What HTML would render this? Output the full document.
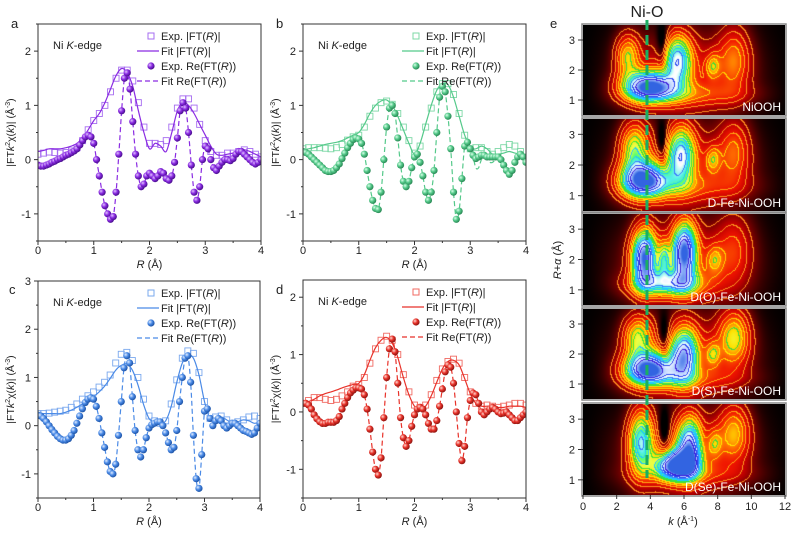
<!DOCTYPE html>
<html><head><meta charset="utf-8">
<style>
body{margin:0;background:#fff;}
#wrap{position:relative;width:800px;height:538px;overflow:hidden;font-family:"Liberation Sans",sans-serif;}
canvas{position:absolute;}
svg{position:absolute;left:0;top:0;}
text{font-family:"Liberation Sans",sans-serif;}
</style></head>
<body>
<div id="wrap">
<canvas id="h0"></canvas>
<canvas id="h1"></canvas>
<canvas id="h2"></canvas>
<canvas id="h3"></canvas>
<canvas id="h4"></canvas>
<svg id="svg" width="800" height="538">
<defs>
<radialGradient id="gA" cx="35%" cy="35%" r="65%"><stop offset="0" stop-color="#e0c0ff"/><stop offset="0.5" stop-color="#8a2be2"/><stop offset="1" stop-color="#4b0f90"/></radialGradient>
<radialGradient id="gB" cx="35%" cy="35%" r="65%"><stop offset="0" stop-color="#d8ffe8"/><stop offset="0.5" stop-color="#55c98a"/><stop offset="1" stop-color="#2a8a56"/></radialGradient>
<radialGradient id="gC" cx="35%" cy="35%" r="65%"><stop offset="0" stop-color="#e0ecff"/><stop offset="0.5" stop-color="#4a8ae6"/><stop offset="1" stop-color="#1f55a8"/></radialGradient>
<radialGradient id="gD" cx="35%" cy="35%" r="65%"><stop offset="0" stop-color="#ffd8d0"/><stop offset="0.5" stop-color="#e8322a"/><stop offset="1" stop-color="#901510"/></radialGradient>
</defs>
</svg>
</div>
<script>
// ---- panel a ----
const absA=[0.1,0.12,0.14,0.13,0.12,0.13,0.16,0.22,0.35,0.55,0.72,0.85,1.0,1.25,1.5,1.65,1.65,1.45,1.05,0.6,0.3,0.3,0.28,0.35,0.6,0.95,1.12,1.12,0.95,0.65,0.35,0.15,0.08,0.08,0.12,0.12,0.15,0.18,0.15,0.1,0.05];
const fitAbsA=[0.15,0.17,0.2,0.2,0.2,0.22,0.25,0.3,0.4,0.55,0.72,0.85,1.05,1.3,1.55,1.68,1.6,1.35,0.9,0.5,0.2,0.3,0.25,0.15,0.5,0.9,1.05,1.0,0.85,0.65,0.45,0.25,0.1,0.08,0.1,0.12,0.15,0.18,0.15,0.1,0.05];
const reA=[-0.1,-0.12,-0.12,-0.1,-0.08,-0.05,-0.03,0,0.02,0.05,0.08,0.1,0.13,0.16,0.2,0.27,0.35,0.42,0.45,0.42,0.3,0.0,-0.3,-0.6,-0.85,-1.0,-1.1,-1.05,-0.6,0.1,0.9,1.5,1.6,1.3,0.7,0.1,-0.3,-0.5,-0.45,-0.3,-0.25,-0.3,-0.35,-0.3,-0.22,-0.25,-0.35,-0.38,-0.3,-0.05,0.4,0.9,1.05,0.95,0.5,-0.1,-0.6,-0.75,-0.5,0.0,0.25,0.2,0.0,-0.15,-0.2,-0.12,-0.05,0.0,0.0,-0.02,0.02,0.1,0.15,0.15,0.1,0.05,0.0,-0.05,-0.08,-0.05,0.0];
const fitReA=[-0.1,-0.12,-0.12,-0.1,-0.08,-0.05,-0.03,0,0.02,0.05,0.08,0.1,0.13,0.16,0.2,0.27,0.35,0.42,0.45,0.42,0.3,0.0,-0.3,-0.6,-0.85,-1.0,-1.1,-1.05,-0.6,0.1,0.9,1.5,1.6,1.3,0.7,0.1,-0.3,-0.5,-0.45,-0.3,-0.25,-0.3,-0.35,-0.3,-0.22,-0.25,-0.35,-0.38,-0.3,-0.05,0.4,0.9,1.05,0.95,0.5,-0.1,-0.6,-0.75,-0.5,0.0,0.25,0.2,0.0,-0.15,-0.2,-0.12,-0.05,0.0,0.0,-0.02,0.02,0.1,0.15,0.15,0.1,0.05,0.0,-0.05,-0.08,-0.05,0.0];
// ---- panel b ----
const absB=[0.2,0.22,0.22,0.22,0.21,0.2,0.22,0.28,0.36,0.42,0.45,0.6,0.8,0.95,1.05,1.08,1.02,0.85,0.6,0.35,0.12,0.25,0.6,0.95,1.25,1.4,1.4,1.2,0.85,0.45,0.2,0.22,0.22,0.15,0.1,0.15,0.22,0.28,0.25,0.15,0.05];
const fitAbsB=[0.18,0.2,0.22,0.25,0.28,0.3,0.32,0.35,0.4,0.45,0.5,0.65,0.85,1.0,1.08,1.1,1.0,0.8,0.55,0.3,0.1,0.3,0.65,1.0,1.28,1.4,1.38,1.15,0.8,0.45,0.22,0.2,0.25,0.2,0.1,0.1,0.12,0.15,0.12,0.1,0.05];
const reB=[0.15,0.13,0.1,0.05,0,-0.05,-0.1,-0.15,-0.2,-0.22,-0.22,-0.2,-0.15,-0.08,0.02,0.12,0.22,0.3,0.37,0.4,0.38,0.3,0.1,-0.2,-0.5,-0.75,-0.9,-0.92,-0.6,0.0,0.6,0.95,1.0,0.85,0.4,-0.1,-0.4,-0.5,-0.4,-0.15,0.05,0.1,-0.05,-0.3,-0.6,-0.75,-0.6,-0.2,0.5,1.15,1.35,1.25,0.8,0.2,-0.6,-1.1,-0.95,-0.35,0.25,0.32,0.2,0.08,0.02,0.05,0.08,0.08,0.05,0.05,0.05,0.05,0.05,0.0,-0.1,-0.2,-0.27,-0.2,-0.05,0.05,0.1,0.05,-0.05];
const fitReB=[0.15,0.13,0.1,0.05,0,-0.05,-0.1,-0.15,-0.2,-0.22,-0.22,-0.2,-0.15,-0.08,0.02,0.12,0.22,0.3,0.37,0.4,0.38,0.3,0.1,-0.2,-0.5,-0.75,-0.9,-0.92,-0.6,0.0,0.6,0.95,1.0,0.85,0.4,-0.1,-0.4,-0.5,-0.4,-0.15,0.05,0.1,-0.05,-0.3,-0.6,-0.75,-0.6,-0.2,0.5,1.15,1.35,1.25,0.8,0.2,-0.6,-1.1,-0.95,-0.35,0.25,0.32,0.2,0.05,-0.15,-0.15,0.0,0.05,0.0,-0.05,-0.05,0.0,0.02,0.0,-0.1,-0.2,-0.27,-0.2,-0.05,0.05,0.1,0.05,-0.05];
// ---- panel c ----
const absC=[0.25,0.25,0.26,0.28,0.3,0.32,0.38,0.45,0.55,0.62,0.7,0.8,0.9,1.05,1.3,1.48,1.52,1.35,1.0,0.55,0.2,0.1,0.05,0.1,0.45,0.95,1.4,1.55,1.5,1.1,0.5,0.15,0.18,0.2,0.12,0.05,0.08,0.12,0.18,0.2,0.15];
const fitAbsC=[0.25,0.25,0.25,0.25,0.25,0.28,0.32,0.38,0.45,0.52,0.6,0.7,0.82,0.98,1.15,1.25,1.28,1.15,0.85,0.45,0.15,0.08,0.05,0.1,0.4,0.9,1.3,1.45,1.4,1.05,0.5,0.15,0.15,0.18,0.12,0.05,0.08,0.12,0.1,0.05,0.08];
const reC=[0.22,0.2,0.15,0.08,0,-0.08,-0.15,-0.22,-0.27,-0.3,-0.3,-0.27,-0.2,-0.1,0.05,0.2,0.35,0.48,0.55,0.58,0.55,0.4,0.15,-0.15,-0.45,-0.75,-0.95,-1.0,-0.8,-0.2,0.5,1.2,1.45,1.3,0.6,-0.1,-0.5,-0.65,-0.5,-0.25,-0.05,0.02,0.05,0.08,0.08,0.0,-0.15,-0.35,-0.5,-0.45,-0.1,0.5,1.0,1.4,1.45,0.9,-0.2,-1.1,-1.3,-0.6,0.3,0.35,0.15,0.0,0.1,0.15,0.1,0.0,-0.05,0.0,0.05,0.05,0.0,-0.05,-0.1,-0.12,-0.15,-0.18,-0.15,-0.05,0.05];
const fitReC=[0.22,0.2,0.15,0.08,0,-0.08,-0.15,-0.22,-0.27,-0.3,-0.3,-0.27,-0.2,-0.1,0.05,0.2,0.35,0.48,0.55,0.58,0.55,0.4,0.15,-0.15,-0.45,-0.75,-0.95,-1.0,-0.8,-0.2,0.5,1.2,1.45,1.3,0.6,-0.1,-0.5,-0.65,-0.5,-0.25,-0.05,0.02,0.05,0.08,0.08,0.0,-0.15,-0.35,-0.5,-0.45,-0.1,0.5,1.0,1.4,1.45,0.9,-0.2,-1.1,-1.3,-0.6,0.3,0.35,0.15,0.0,0.1,0.15,0.1,0.0,-0.05,0.0,0.05,0.05,0.0,-0.05,-0.1,-0.12,-0.15,-0.18,-0.15,-0.05,0.05];
// ---- panel d ----
const absD=[0.15,0.2,0.25,0.25,0.22,0.2,0.22,0.28,0.35,0.45,0.48,0.6,0.85,1.1,1.25,1.32,1.25,1.0,0.65,0.35,0.12,0.08,0.12,0.3,0.55,0.75,0.88,0.92,0.85,0.6,0.35,0.15,0.1,0.12,0.1,0.08,0.1,0.12,0.15,0.15,0.12];
const fitAbsD=[0.15,0.18,0.22,0.28,0.32,0.35,0.38,0.42,0.45,0.48,0.5,0.65,0.9,1.12,1.25,1.3,1.2,0.95,0.6,0.3,0.1,0.05,0.1,0.28,0.52,0.75,0.88,0.9,0.82,0.58,0.32,0.15,0.1,0.1,0.1,0.08,0.08,0.1,0.1,0.1,0.08];
const reD=[0.15,0.15,0.12,0.05,-0.05,-0.12,-0.17,-0.2,-0.2,-0.18,-0.18,-0.18,-0.15,-0.08,0.05,0.15,0.25,0.33,0.38,0.42,0.42,0.4,0.3,0.05,-0.3,-0.7,-1.0,-1.1,-0.8,-0.1,0.6,1.1,1.27,1.05,0.5,-0.1,-0.45,-0.6,-0.5,-0.25,-0.05,0.05,0.08,0.05,-0.05,-0.2,-0.3,-0.3,-0.15,0.1,0.4,0.7,0.82,0.78,0.5,0.0,-0.55,-0.85,-0.6,-0.1,0.2,0.33,0.3,0.15,0.0,-0.05,0.0,0.05,0.08,0.05,0.0,-0.03,-0.02,0.0,-0.05,-0.1,-0.15,-0.15,-0.1,-0.05,0.0];
const fitReD=[0.15,0.15,0.12,0.05,-0.05,-0.12,-0.17,-0.2,-0.2,-0.18,-0.18,-0.18,-0.15,-0.08,0.05,0.15,0.25,0.33,0.38,0.42,0.42,0.4,0.3,0.05,-0.3,-0.7,-1.0,-1.1,-0.8,-0.1,0.6,1.1,1.27,1.05,0.5,-0.1,-0.45,-0.6,-0.5,-0.25,-0.05,0.05,0.08,0.05,-0.05,-0.2,-0.3,-0.3,-0.15,0.1,0.4,0.7,0.82,0.78,0.5,0.0,-0.55,-0.85,-0.6,-0.1,0.2,0.33,0.3,0.15,0.0,-0.05,0.0,0.05,0.08,0.05,0.0,-0.03,-0.02,0.0,-0.05,-0.1,-0.15,-0.15,-0.1,-0.05,0.0];
const xTicks=[0,1,2,3,4];
const yTicksAB=[-1,0,1,2];
const yTicksC=[-1,0,1,2,3];
const yTicksD=[-1,0,1,2];
// ---- panel e wavelet blobs: [k, R, amplitude, sigmaK, sigmaR] ----
const blobsNiOOH=[[3.8,1.45,0.75,1.3,0.42],[2.6,2.5,0.4,0.6,0.6],[5.6,2.4,0.5,0.7,0.7],[7.7,2.15,0.22,0.35,0.35],[9.0,2.4,0.28,0.8,0.9],[4.7,2.8,-0.22,0.3,0.6],[6.5,1.2,0.15,3.0,0.3]];
const blobsD=[[3.5,1.5,0.75,1.2,0.48],[3.0,2.6,0.45,0.7,0.7],[5.8,2.4,0.5,0.7,0.8],[4.7,2.7,-0.22,0.3,0.6],[7.7,2.2,0.22,0.35,0.35],[9.0,2.5,0.26,0.8,0.9],[6.5,1.3,0.12,3.0,0.35]];
const blobsO=[[3.6,2.1,0.75,0.6,0.8],[6.0,2.3,0.68,0.6,0.85],[5.0,1.2,0.42,1.8,0.35],[4.8,2.0,0.3,0.3,0.5],[7.8,2.0,0.2,0.4,0.4],[9.0,2.4,0.2,0.9,1.0]];
const blobsS=[[3.8,1.5,0.75,1.2,0.45],[6.0,2.0,0.55,0.7,0.8],[3.2,2.6,0.42,0.7,0.6],[4.8,2.6,-0.2,0.3,0.6],[9.0,2.6,0.4,0.8,0.8],[7.7,2.0,0.22,0.35,0.35],[6.5,1.2,0.12,3.0,0.3]];
const blobsSe=[[3.4,2.3,0.55,0.6,0.9],[5.5,1.5,0.68,1.0,0.4],[6.3,2.2,0.55,0.6,0.8],[4.8,2.6,-0.2,0.3,0.6],[9.0,2.6,0.34,0.8,0.8],[7.8,2.2,0.2,0.35,0.4],[6.5,1.2,0.12,3.0,0.3]];
const sampleNames=["NiOOH","D-Fe-Ni-OOH","D(O)-Fe-Ni-OOH","D(S)-Fe-Ni-OOH","D(Se)-Fe-Ni-OOH"];
const eYTicks=[1,2,3];
const eXTicks=[0,2,4,6,8,10,12];

const NS="http://www.w3.org/2000/svg";
const svg=document.getElementById('svg');
function el(tag,attrs,parent){const e=document.createElementNS(NS,tag);for(const k in attrs)e.setAttribute(k,attrs[k]);(parent||svg).appendChild(e);return e;}
function txt(s,x,y,size,parent,anchor,extra){const t=el('text',Object.assign({x:x,y:y,'font-size':size,'text-anchor':anchor||'start',fill:'#222'},extra||{}),parent);t.textContent=s;return t;}
function smooth(pts){let d='M'+pts[0][0].toFixed(1)+','+pts[0][1].toFixed(1);for(let i=0;i<pts.length-1;i++){const p0=pts[i-1]||pts[i],p1=pts[i],p2=pts[i+1],p3=pts[i+2]||p2;const c1=[p1[0]+(p2[0]-p0[0])/6,p1[1]+(p2[1]-p0[1])/6],c2=[p2[0]-(p3[0]-p1[0])/6,p2[1]-(p3[1]-p1[1])/6];d+='C'+c1[0].toFixed(1)+','+c1[1].toFixed(1)+' '+c2[0].toFixed(1)+','+c2[1].toFixed(1)+' '+p2[0].toFixed(1)+','+p2[1].toFixed(1);}return d;}

const panels=[
 {key:'a',color:'#8a2be2',light:'#a66cf0',grad:'gA',x0:38,x1:261,yT:24,yB:241,ymin:-1.5,ymax:2.5,yt:yTicksAB,abs:absA,fabs:fitAbsA,re:reA,fre:fitReA,lx:14,ly:24},
 {key:'b',color:'#55c98a',light:'#7dd8a6',grad:'gB',x0:303,x1:526,yT:24,yB:241,ymin:-1.5,ymax:2.5,yt:yTicksAB,abs:absB,fabs:fitAbsB,re:reB,fre:fitReB,lx:279,ly:24},
 {key:'c',color:'#4a8ae6',light:'#7aa8ee',grad:'gC',x0:38,x1:260,yT:281,yB:498,ymin:-1.5,ymax:3,yt:yTicksC,abs:absC,fabs:fitAbsC,re:reC,fre:fitReC,lx:12,ly:290},
 {key:'d',color:'#e8322a',light:'#f06a62',grad:'gD',x0:303,x1:526,yT:280,yB:498,ymin:-1.5,ymax:2.3,yt:yTicksD,abs:absD,fabs:fitAbsD,re:reD,fre:fitReD,lx:279,ly:290}
];
panels.forEach(p=>{
 const g=el('g',{});
 
 
 const X=v=>p.x0+(v/4)*(p.x1-p.x0);
 const Y=v=>p.yB-(v-p.ymin)/(p.ymax-p.ymin)*(p.yB-p.yT);
 const clip='clip'+p.key;
 const cp=el('clipPath',{id:clip},g);el('rect',{x:p.x0,y:p.yT,width:p.x1-p.x0,height:p.yB-p.yT},cp);
 const pg=el('g',{'clip-path':'url(#'+clip+')'},g);
 p.abs.forEach((v,i)=>{const r=el('rect',{x:X(i*0.1)-3,y:Y(v)-3,width:6,height:6,fill:'none',stroke:p.light,'stroke-width':0.9},pg);
  
  });
 const fa=el('path',{d:smooth(p.fabs.map((v,i)=>[X(i*0.1),Y(v)])),fill:'none',stroke:p.color,'stroke-width':1.2},pg);
 
 
 const fr=el('path',{d:smooth(p.fre.map((v,i)=>[X(i*0.05),Y(v)])),fill:'none',stroke:p.color,'stroke-width':1.2,'stroke-dasharray':'5,3'},pg);
 
 
 p.re.forEach((v,i)=>{const c=el('circle',{cx:X(i*0.05),cy:Y(v),r:3.6,fill:'url(#'+p.grad+')'},pg);
  
  });
 el('rect',{x:p.x0,y:p.yT,width:p.x1-p.x0,height:p.yB-p.yT,fill:'none',stroke:'#333','stroke-width':1},g);
 xTicks.forEach(t=>{el('line',{x1:X(t),x2:X(t),y1:p.yB,y2:p.yB+4,stroke:'#333'},g);txt(String(t),X(t),p.yB+13,11,g,'middle');});
 for(let t=0.5;t<4;t+=1)el('line',{x1:X(t),x2:X(t),y1:p.yB,y2:p.yB+2,stroke:'#333'},g);
 p.yt.forEach(t=>{el('line',{x1:p.x0-4,x2:p.x0,y1:Y(t),y2:Y(t),stroke:'#333'},g);txt(String(t),p.x0-7,Y(t)+4,11,g,'end');});
 for(let t=p.yt[0]-0.5;t<=p.ymax;t+=1)if(t>=p.ymin)el('line',{x1:p.x0-2,x2:p.x0,y1:Y(t),y2:Y(t),stroke:'#333'},g);
 const xl=txt('',(p.x0+p.x1)/2,p.yB+27,11,g,'middle');xl.innerHTML='<tspan font-style="italic">R</tspan> (Å)';
 
 
 const cy=(p.yT+p.yB)/2;
 const yl=txt('',p.x0-24,cy,10.5,g,'middle',{transform:'rotate(-90 '+(p.x0-24)+' '+cy+')'});
 yl.innerHTML='|FT<tspan font-style="italic">k</tspan><tspan font-size="7" dy="-4">2</tspan><tspan dy="4">χ(</tspan><tspan font-style="italic">k</tspan>)| (Å<tspan font-size="7" dy="-4">-3</tspan><tspan dy="4">)</tspan>';
 
 
 const pl=txt(p.key,p.lx-3,p.ly+4,13,g,'start');
 
 
 const ed=txt('',p.x0+15,p.yT+25,11,g,'start');ed.innerHTML='Ni <tspan font-style="italic">K</tspan>-edge';
 
 
 const lg=el('g',{},g);
 
 
 const lx=p.x0+113, ly=p.yT+12;
 el('rect',{x:lx-3,y:ly-3,width:6,height:6,fill:'none',stroke:p.light},lg);
 txt('',lx+10,ly+4,11,lg).innerHTML='Exp. |FT(<tspan font-style="italic">R</tspan>)|';
 el('line',{x1:lx-14,x2:lx+8,y1:ly+15,y2:ly+15,stroke:p.color,'stroke-width':1.2},lg);
 txt('',lx+10,ly+19,11,lg).innerHTML='Fit |FT(<tspan font-style="italic">R</tspan>)|';
 el('circle',{cx:lx,cy:ly+30,r:3.6,fill:'url(#'+p.grad+')'},lg);
 txt('',lx+10,ly+34,11,lg).innerHTML='Exp. Re(FT(<tspan font-style="italic">R</tspan>))';
 el('line',{x1:lx-14,x2:lx+8,y1:ly+45,y2:ly+45,stroke:p.color,'stroke-width':1.2,'stroke-dasharray':'5,3'},lg);
 txt('',lx+10,ly+49,11,lg).innerHTML='Fit Re(FT(<tspan font-style="italic">R</tspan>))';
});

// ---- panel e heatmaps ----
const eX0=583,eX1=785;
const subs=[[25,115],[119,211],[214,305],[309,399],[404,495]];
const blobSets=[blobsNiOOH,blobsD,blobsO,blobsS,blobsSe];
const stops=[[0,[0,0,0]],[0.08,[80,0,0]],[0.2,[190,0,0]],[0.3,[240,20,0]],[0.42,[255,110,0]],[0.52,[255,225,0]],[0.6,[235,255,70]],[0.66,[90,255,110]],[0.72,[80,240,230]],[0.8,[255,255,255]],[0.9,[170,200,255]],[1.0,[50,100,225]]];
const levels=[0.14,0.22,0.3,0.37,0.44,0.5,0.56,0.62,0.68,0.74,0.82,0.9];
const lcols=[[255,140,30],[255,150,30],[255,170,20],[255,210,0],[255,230,0],[60,220,60],[60,230,60],[30,200,255],[30,200,255],[60,120,255],[40,70,240],[60,30,220]];
function cmap(f){for(let i=1;i<stops.length;i++){if(f<=stops[i][0]){const a=stops[i-1],b=stops[i],t=(f-a[0])/(b[0]-a[0]);return a[1].map((c,j)=>c+(b[1][j]-c)*t);}}return stops[stops.length-1][1];}
subs.forEach((s,si)=>{
 const cv=document.getElementById('h'+si);const W=eX1-eX0,H=s[1]-s[0];
 cv.width=W;cv.height=H;cv.style.left=eX0+'px';cv.style.top=s[0]+'px';
 const ctx=cv.getContext('2d');const img=ctx.createImageData(W,H);
 const F=new Float32Array(W*H);
 for(let y=0;y<H;y++)for(let x=0;x<W;x++){
  const k=x/W*12,R=3.5-y/H*3;
  let v=0.26*Math.exp(-Math.pow((k-6)/4.0,2))*Math.exp(-Math.pow((R-1.8)/1.5,2));
  blobSets[si].forEach(b=>{v+=1.2*b[2]*Math.exp(-(Math.pow((k-b[0])/b[3],2)+Math.pow((R-b[1])/b[4],2))/1.5);});
  v*=(1-Math.exp(-k/1.3))*(1-Math.exp(-(12.3-k)/1.2));
  F[y*W+x]=Math.max(0,Math.min(1,v));
 }
 const L=f=>{let n=0;for(const l of levels)if(f>l)n++;return n;};
 for(let y=0;y<H;y++)for(let x=0;x<W;x++){
  const f=F[y*W+x];let c=cmap(f);
  const l0=L(f),l1=x<W-1?L(F[y*W+x+1]):l0,l2=y<H-1?L(F[(y+1)*W+x]):l0;
  if(l0!==l1||l0!==l2){const m=Math.max(l0,l1,l2)-1;c=lcols[Math.max(0,m)];}
  const o=(y*W+x)*4;img.data[o]=c[0];img.data[o+1]=c[1];img.data[o+2]=c[2];img.data[o+3]=255;
 }
 ctx.putImageData(img,0,0);
 const g=el('g',{});
 
 
 el('rect',{x:eX0-1,y:s[0]-1,width:W+2,height:H+2,fill:'none',stroke:'#888','stroke-width':1.5},g);
 const Y=r=>s[0]+(3.5-r)/3*H;
 eYTicks.forEach(t=>{el('line',{x1:eX0-5,x2:eX0,y1:Y(t),y2:Y(t),stroke:'#333'},g);txt(String(t),eX0-8,Y(t)+4,11,g,'end');});
 const nm=txt(sampleNames[si],eX1-4,s[1]-4,12,g,'end',{fill:'#fff'});
 
 
});
const ex=el('g',{});


eXTicks.forEach(t=>{const x=eX0+t/12*(eX1-eX0);el('line',{x1:x,x2:x,y1:495,y2:499,stroke:'#333'},ex);txt(String(t),x,510,11,ex,'middle');});
const kt=txt('',683,525,11,ex,'middle');kt.innerHTML='<tspan font-style="italic">k</tspan> (Å<tspan font-size="7" dy="-4">-1</tspan><tspan dy="4">)</tspan>';
const ryl=txt('',561,260,11,svg,'middle',{transform:'rotate(-90 561 260)'});
ryl.innerHTML='<tspan font-style="italic">R</tspan>+<tspan font-style="italic">α</tspan> (Å)';


const kx=eX0+3.8/12*(eX1-eX0);
const dl=el('line',{x1:kx,x2:kx,y1:20,y2:478,stroke:'#1aae62','stroke-width':3,'stroke-dasharray':'10,5'});


const nio=txt('Ni-O',kx,17,16,svg,'middle');


const el_e=txt('e',550,28,13,svg,'start');


</script>
</body></html>
